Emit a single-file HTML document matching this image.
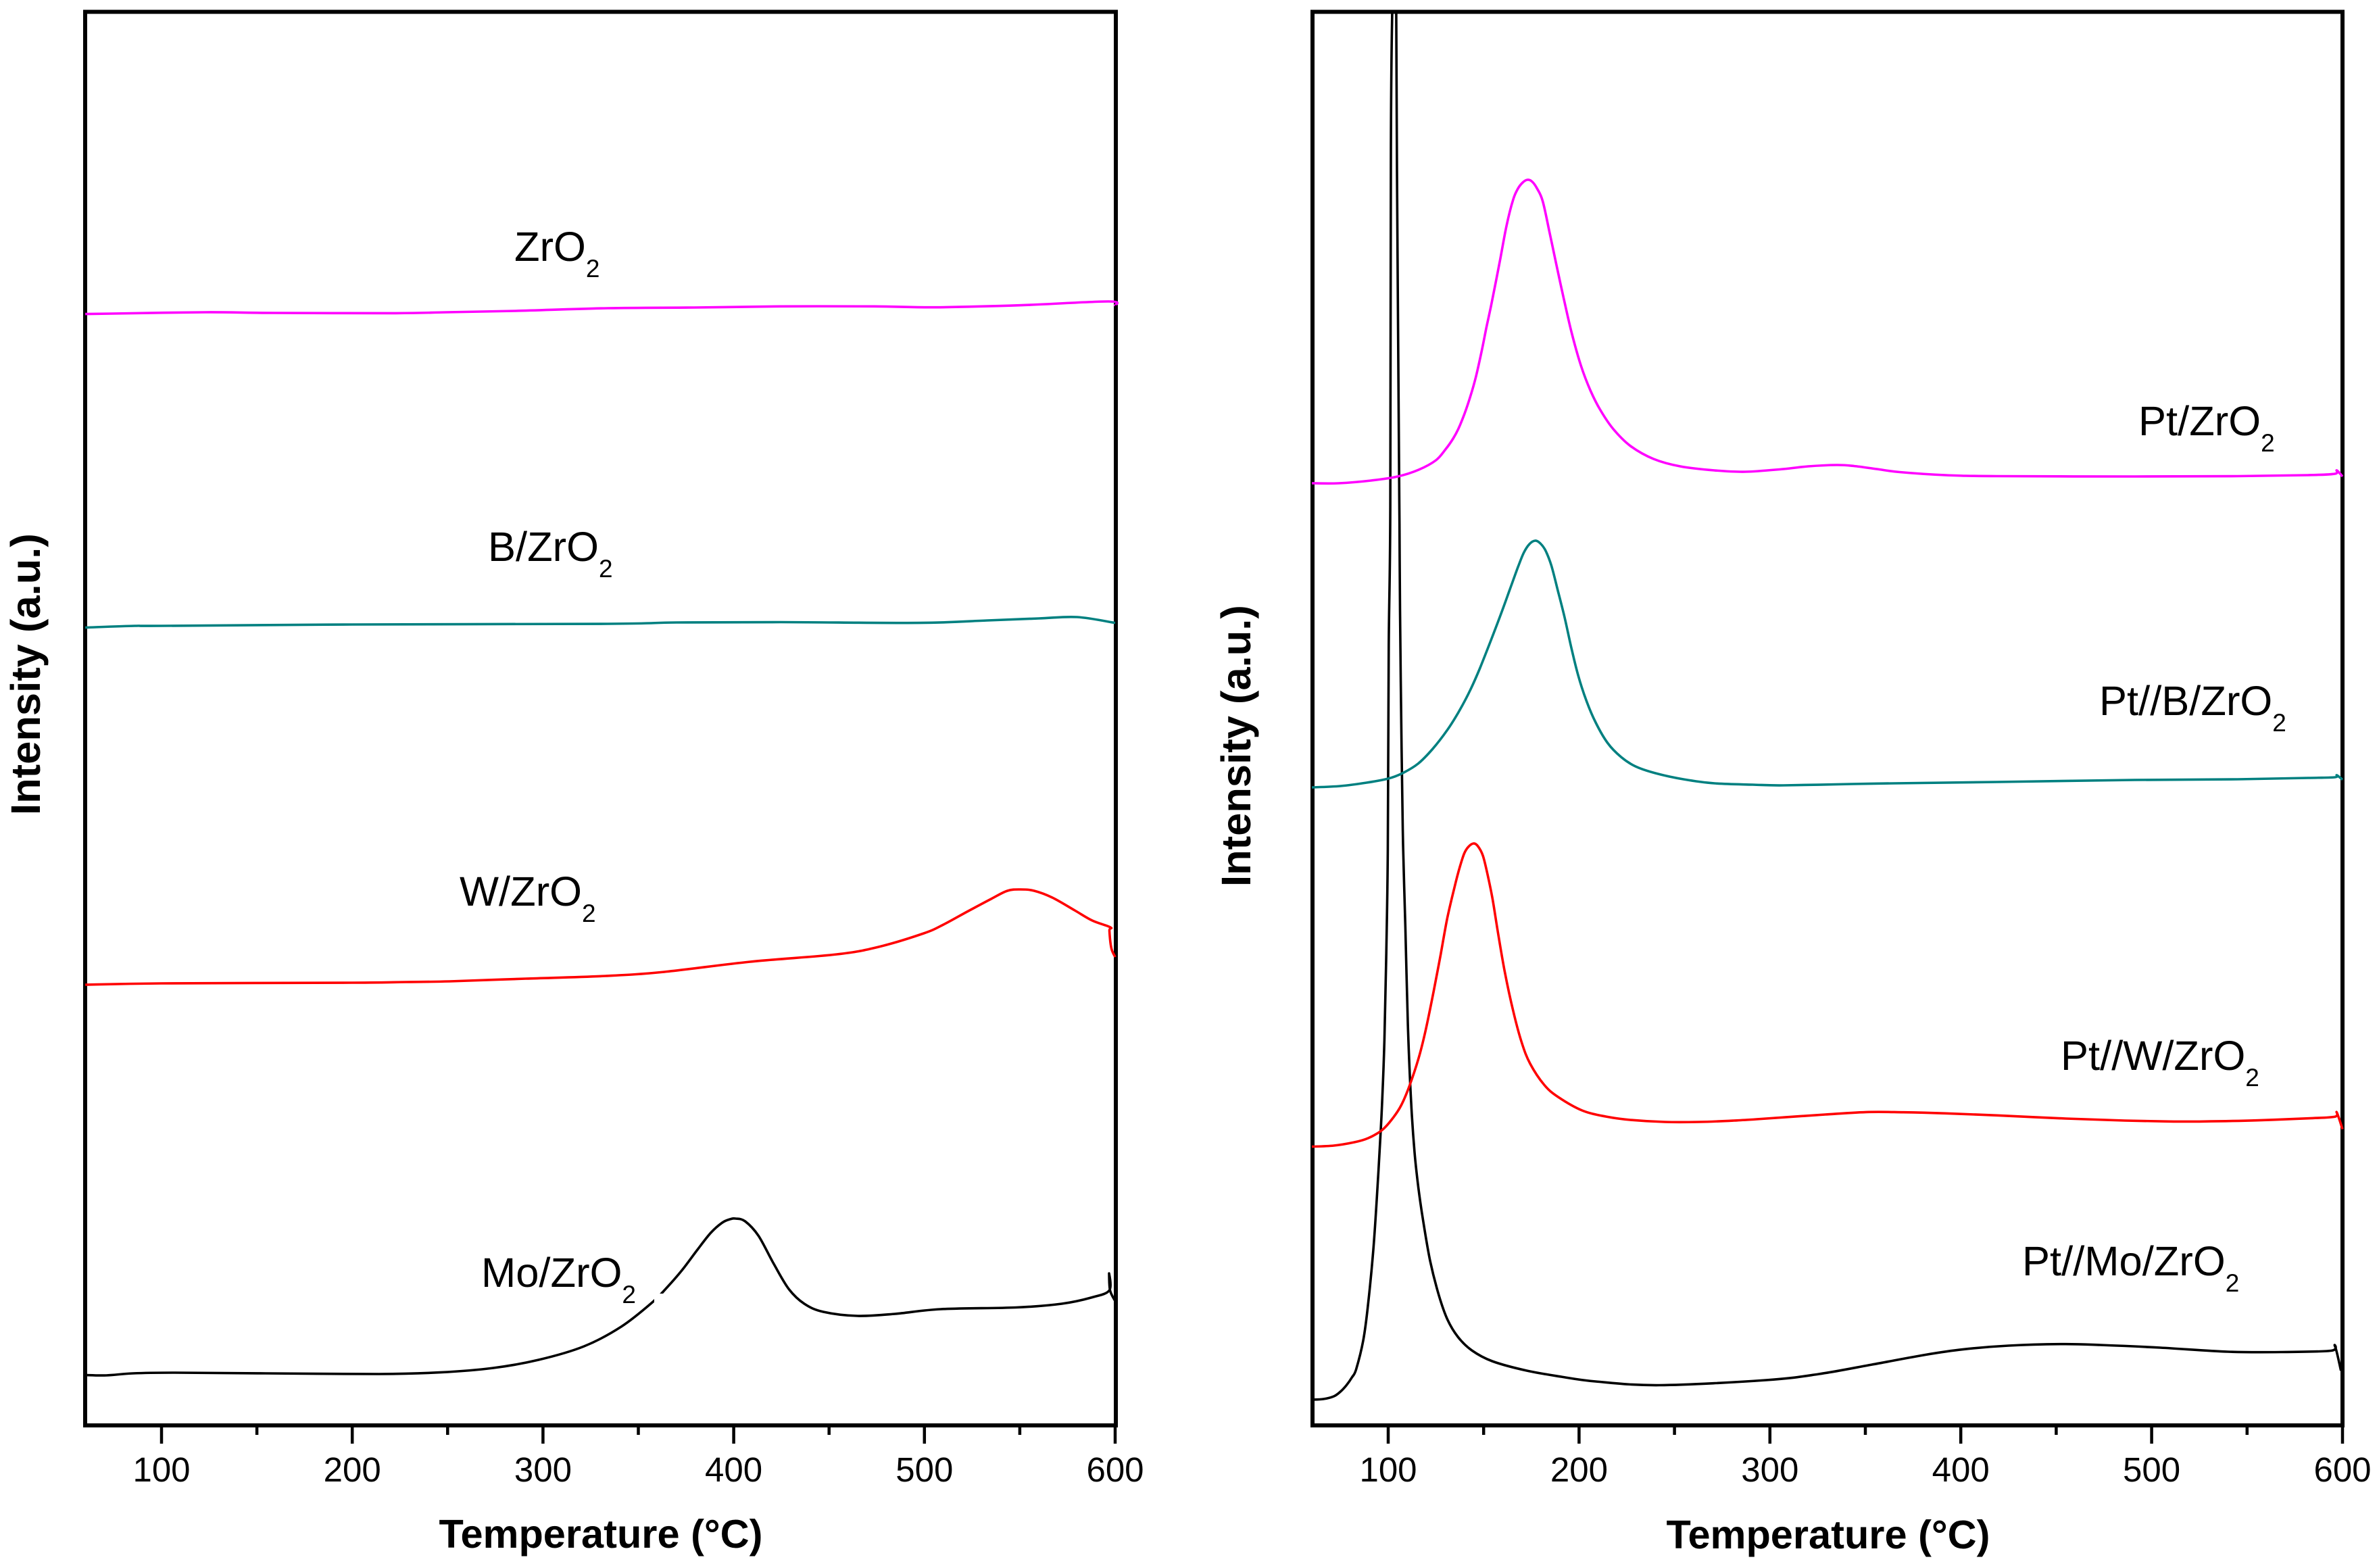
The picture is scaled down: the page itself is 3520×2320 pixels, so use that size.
<!DOCTYPE html>
<html lang="en">
<head>
<meta charset="utf-8">
<title>TPD profiles of ZrO2 catalysts</title>
<style>
html,body{margin:0;padding:0;background:#fff;}
svg{display:block;}
text{font-family:"Liberation Sans",Arial,sans-serif;fill:#000;}
.lbl{font-size:61.5px;}
.sub{font-size:37px;}
.tick-label{font-size:51px;text-anchor:middle;}
.title{font-size:59.5px;font-weight:bold;text-anchor:middle;}
.ytitle{font-size:61.5px;font-weight:bold;}
</style>
</head>
<body>
<svg id="chart" xmlns="http://www.w3.org/2000/svg" width="3520" height="2320" viewBox="0 0 3520 2320">
  <rect x="0" y="0" width="3520" height="2320" fill="#fff"/>
  <defs>
    <clipPath id="clip-left"><rect x="120" y="17" width="1540" height="2092"/></clipPath>
    <clipPath id="clip-right"><rect x="1936" y="17" width="1540" height="2092"/></clipPath>
  </defs>

  <g id="left-panel">
    <rect x="126" y="17.5" width="1525" height="2091.5" fill="none" stroke="#000" stroke-width="6"/>
    <g id="left-ticks"></g>
    <g id="left-series" clip-path="url(#clip-left)"></g>
    <rect x="968" y="1914" width="13" height="13" fill="#fff"/>
    <text class="title" x="889" y="2290">Temperature (°C)</text>
    <text class="ytitle" transform="translate(59,1206) rotate(-90)">Intensity (a.u.)</text>
    <text class="lbl" x="761" y="386">ZrO<tspan class="sub" dy="24">2</tspan></text>
    <text class="lbl" x="722" y="830">B/ZrO<tspan class="sub" dy="24">2</tspan></text>
    <text class="lbl" x="680" y="1340">W/ZrO<tspan class="sub" dy="24">2</tspan></text>
    <text class="lbl" x="712" y="1904">Mo/ZrO<tspan class="sub" dy="24">2</tspan></text>
  </g>

  <g id="right-panel">
    <rect x="1942" y="17.5" width="1524" height="2091.5" fill="none" stroke="#000" stroke-width="6"/>
    <g id="right-ticks"></g>
    <g id="right-series" clip-path="url(#clip-right)"></g>
    <text class="title" x="2705" y="2291">Temperature (°C)</text>
    <text class="ytitle" transform="translate(1850,1312) rotate(-90)">Intensity (a.u.)</text>
    <text class="lbl" x="3164" y="644">Pt/ZrO<tspan class="sub" dy="24">2</tspan></text>
    <text class="lbl" x="3106" y="1058">Pt//B/ZrO<tspan class="sub" dy="24">2</tspan></text>
    <text class="lbl" x="3049" y="1583">Pt//W/ZrO<tspan class="sub" dy="24">2</tspan></text>
    <text class="lbl" x="2992" y="1887">Pt//Mo/ZrO<tspan class="sub" dy="24">2</tspan></text>
  </g>
</svg>

<script>
// Axis tick values
const majorTicks = [100, 200, 300, 400, 500, 600];
const minorTicks = [150, 250, 350, 450, 550];
const tickLabels = ["100", "200", "300", "400", "500", "600"];

// Left panel: temperature (deg C) and intensity (a.u.)
const zro2Temp = [60,74,123,159,222.6,249.5,285.7,334,379.4,424.6,473.5,506,551,596.5,600];
const zro2Int = [1644.4,1645,1647,1646,1645.6,1647,1649,1653,1654,1655.7,1655.7,1654.3,1657.4,1663,1657];

const bZro2Temp = [60,86,100,200,334,370,424.6,497,533,560,580,600];
const bZro2Int = [1180.5,1183,1183,1185,1186,1188,1188.5,1187.4,1191,1194,1196,1187.4];

const wZro2Temp = [60,100,200,228,251,291,333,363.6,408.6,454,476,499.6,510,523,535,543.5,550.4,557.5,567,578.8,588,597.5,597,598,600];
const wZro2Int = [652,654,655,656,657,661,665,671,686,697,708,728,741,761,779,791,793,791,781,762,747,737,732,706,693];

const moZro2Temp = [60,71,85,107,154.6,214,246,274,297.7,321.5,341,357.3,365,373,381,388,394,398,401,406,413,421,429,437,447,465,484.6,508.6,548,572,588,597,596.8,597.3,600];
const moZro2Int = [74.5,74,77,78,77,76,78.4,85,97,117,146,182,204,230,260,285,300,305,306,302,280.5,239,201.4,180,168,162,165,172,174.5,180,189.5,200,225,200,184];

// Right panel: temperature (deg C) and intensity (a.u.)
const ptZro2Temp = [60,74,91,105,116,125,130,134,137,140,143,146,149,151.5,154,158.4,162,165.5,168,170.5,173,175.5,178,181,184.7,188,192,196,201,206,211,218,227,239,253,271,287,307,320,335,344,356,368,392,419,491,545,582,596,597,600];
const ptZro2Int = [1394,1394,1398,1404,1414,1428,1444,1460,1476,1497,1522,1552,1590,1625,1658,1721,1775,1814,1830,1839,1843,1840,1830,1811,1763,1719,1667,1618,1568,1531,1503,1474,1449,1430,1419,1413,1411,1415,1419,1421,1419.5,1415,1410.5,1406,1404.5,1404,1404.5,1406,1408,1413,1404];

const ptBTemp = [60,75,88.7,100,107.5,115.6,123,131,137,143,148,153.6,159,163.5,168,171,174,177,179.7,182.5,185.5,189,192.4,196,199.6,204,208.7,215,222,229.6,240,254.7,271,291,307,343,365,419,491,545,582,596,597,600];
const ptBInt = [944,946,951,957,965,979,1000,1029,1056,1088,1120,1160,1200,1235,1270,1291,1304,1309,1305,1294,1272,1234,1196,1150,1109,1071,1040,1009.5,989,975,965,956,950,948,947,949,950,952,955,956,958,959,962,955.4];

const ptWTemp = [60,71.5,82.3,89.5,96.8,102,106.7,111,115.8,119.4,123.8,127.5,131,134.8,137.5,139.8,142,144.7,147,149.6,151.9,154.6,157.4,161,165.5,170,174.4,181.7,189,201.6,214,226.8,244.8,262.9,281,293,329,352,370,392,419,455,486,509,527,555,582,596,597,600];
const ptWInt = [412.5,414,419,425,437,453,473,501.4,542,582,642,697,751,797,826,846,856,861,857,843,817,780,731,672,613,566,535,504,486,466,457,452,449,449,451,453,460,463.7,463.3,461.7,458.7,454,451,449.7,449.7,451.3,454.3,456.7,463,438.3];

const ptMoTemp = [60,66,71.5,75,78,81,83.2,86.9,89.5,92.2,94,95.8,97,98,99,99.8,100.3,101.1,101.4,102.1,103.1,104.2,104.6,105.5,105.9,106.2,107,107.8,109,110.3,112,113.8,115.8,118.4,122,126.6,131,136.5,143.8,154.5,172.6,190.7,208.7,242,298,325.7,353.5,381.5,401,425,453,473,504.6,540,568,594,596,599.2];
const ptMoInt = [38,39,43,50,59,71,83,125.4,180,260,335,421,490,570,700,851,1155,1359,1892,2089,2169,2089,1854,1497,1334,1206,1002,859,737,593,479,404,352,301,243,192,157,131,111,95,81,72,65,59.5,67,76,90,104.5,112.4,118,120.3,119,115,109,108.5,110.5,117.6,81];

const SVG_NS = "http://www.w3.org/2000/svg";

// Axis functions
function leftX(t) { return 239 + (t - 100) * 2.822; }
function rightX(t) { return 2054 + (t - 100) * 2.824; }
function intensityY(v) { return 2109 - v * (2092 / 2092); }

function smoothPath(temps, vals, xFn) {
  const pts = temps.map(function (t, i) { return [xFn(t), intensityY(vals[i])]; });
  let d = "M" + pts[0][0].toFixed(1) + " " + pts[0][1].toFixed(1);
  for (let i = 0; i < pts.length - 1; i++) {
    const p0 = pts[Math.max(i - 1, 0)];
    const p1 = pts[i];
    const p2 = pts[i + 1];
    const p3 = pts[Math.min(i + 2, pts.length - 1)];
    const c1x = p1[0] + (p2[0] - p0[0]) / 6;
    const c1y = p1[1] + (p2[1] - p0[1]) / 6;
    const c2x = p2[0] - (p3[0] - p1[0]) / 6;
    const c2y = p2[1] - (p3[1] - p1[1]) / 6;
    d += "C" + c1x.toFixed(1) + " " + c1y.toFixed(1) + " " + c2x.toFixed(1) + " " + c2y.toFixed(1) + " " + p2[0].toFixed(1) + " " + p2[1].toFixed(1);
  }
  return d;
}

function drawSeries(parentId, seriesName, temps, vals, xFn, color) {
  const el = document.createElementNS(SVG_NS, "path");
  el.setAttribute("d", smoothPath(temps, vals, xFn));
  el.setAttribute("fill", "none");
  el.setAttribute("stroke", color);
  el.setAttribute("stroke-width", "3.6");
  el.setAttribute("stroke-linejoin", "round");
  
  
  document.getElementById(parentId).appendChild(el);
}

function drawTick(parent, xPos, yEnd, tickName) {
  const el = document.createElementNS(SVG_NS, "line");
  el.setAttribute("x1", xPos);
  el.setAttribute("x2", xPos);
  el.setAttribute("y1", 2109);
  el.setAttribute("y2", yEnd);
  el.setAttribute("stroke", "#000");
  el.setAttribute("stroke-width", "4.5");
  
  
  parent.appendChild(el);
}

function drawAxis(parentId, xFn, prefix) {
  const parent = document.getElementById(parentId);
  majorTicks.forEach(function (t, i) {
    drawTick(parent, xFn(t), 2136, prefix + "-major-tick");
    const lab = document.createElementNS(SVG_NS, "text");
    lab.setAttribute("class", "tick-label");
    lab.setAttribute("x", xFn(t));
    lab.setAttribute("y", 2192);
    lab.textContent = tickLabels[i];
    
    
    parent.appendChild(lab);
  });
  minorTicks.forEach(function (t) {
    drawTick(parent, xFn(t), 2123, prefix + "-minor-tick");
  });
}

drawAxis("left-ticks", leftX, "left");
drawAxis("right-ticks", rightX, "right");

drawSeries("left-series", "series-mo-zro2", moZro2Temp, moZro2Int, leftX, "#000000");
drawSeries("left-series", "series-w-zro2", wZro2Temp, wZro2Int, leftX, "#ff0000");
drawSeries("left-series", "series-b-zro2", bZro2Temp, bZro2Int, leftX, "#008080");
drawSeries("left-series", "series-zro2", zro2Temp, zro2Int, leftX, "#ff00ff");

drawSeries("right-series", "series-pt-mo-zro2", ptMoTemp, ptMoInt, rightX, "#000000");
drawSeries("right-series", "series-pt-w-zro2", ptWTemp, ptWInt, rightX, "#ff0000");
drawSeries("right-series", "series-pt-b-zro2", ptBTemp, ptBInt, rightX, "#008080");
drawSeries("right-series", "series-pt-zro2", ptZro2Temp, ptZro2Int, rightX, "#ff00ff");
</script>
</body>
</html>
